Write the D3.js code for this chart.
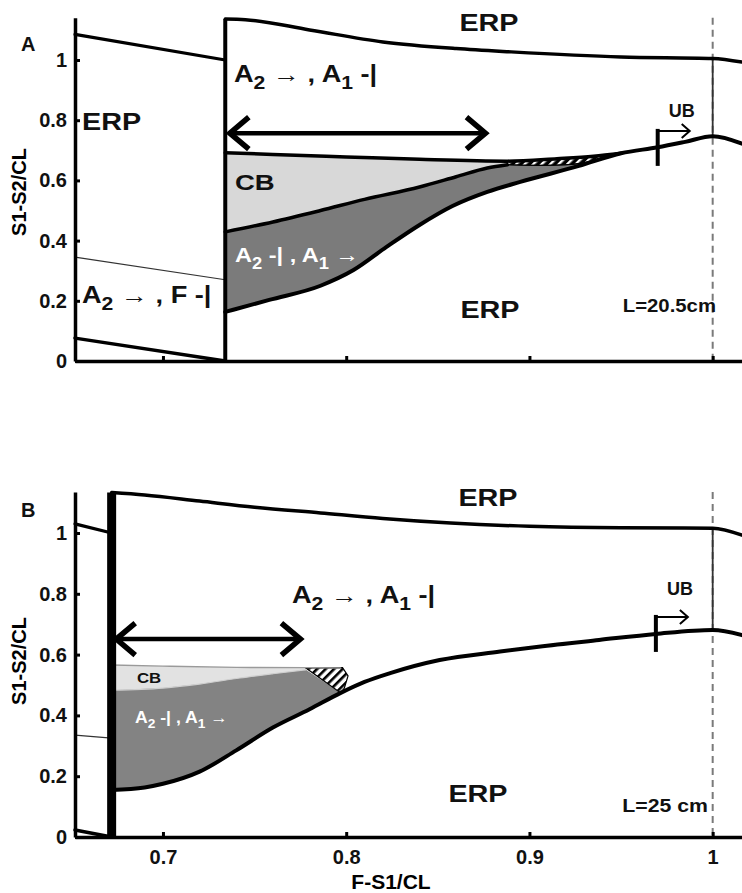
<!DOCTYPE html>
<html><head><meta charset="utf-8">
<script src="https://cdn.jsdelivr.net/npm/d3@7"></script>
<style>body{margin:0;background:#fff}svg{display:block}</style>
</head><body>
<svg id="chart" width="742" height="893"></svg>
<script>
// ---- axis ticks ----
const xTicks = [0.7, 0.8, 0.9, 1];
const xTickLabels = ["0.7", "0.8", "0.9", "1"];
const yTicks = [0, 0.2, 0.4, 0.6, 0.8, 1];
const yTickLabels = ["0", "0.2", "0.4", "0.6", "0.8", "1"];

// ---- panel A, L = 20.5 cm : boundaries as [F-S1/CL, S1-S2/CL] ----
const aBarrier = [[0.734, 0], [0.734, 1.136]];
const aLeftTop = [[0.652, 1.085], [0.734, 1.0]];
const aLeftMid = [[0.652, 0.345], [0.734, 0.27]];
const aLeftLow = [[0.652, 0.076], [0.734, 0.0]];
const aTop = [[0.734, 1.136], [0.745, 1.134], [0.78, 1.10], [0.82, 1.06], [0.86, 1.038], [0.89, 1.027], [0.95, 1.01], [1.0, 1.005], [1.016, 0.993]];
const aCbTop = [[0.734, 0.692], [0.76, 0.686], [0.80, 0.678], [0.84, 0.670], [0.888, 0.664], [0.915, 0.672], [0.935, 0.680], [0.95, 0.690]];
const aMid = [[0.734, 0.429], [0.76, 0.462], [0.786, 0.50], [0.81, 0.537], [0.84, 0.578], [0.86, 0.612], [0.877, 0.641], [0.888, 0.652]];
const aHatchLow = [[0.888, 0.652], [0.905, 0.650], [0.92, 0.652], [0.935, 0.665], [0.95, 0.690]];
const aLow = [[0.734, 0.163], [0.758, 0.203], [0.786, 0.25], [0.804, 0.302], [0.822, 0.379], [0.840, 0.452], [0.858, 0.515], [0.877, 0.562], [0.895, 0.595], [0.927, 0.648], [0.95, 0.69], [0.97, 0.71], [0.985, 0.728], [1.0, 0.747], [1.016, 0.722]];
const aRange = [[0.7365, 0.757], [0.876, 0.757]];
const aUB = [0.970, 0.708];

// ---- panel B, L = 25 cm ----
const bBarrier = [[0.672, 0], [0.672, 1.133]];
const bLeftTop = [[0.652, 1.03], [0.672, 1.0]];
const bLeftMid = [[0.652, 0.335], [0.672, 0.325]];
const bLeftLow = [[0.652, 0.023], [0.672, 0.0]];
const bTop = [[0.672, 1.133], [0.69, 1.125], [0.72, 1.105], [0.75, 1.085], [0.786, 1.066], [0.82, 1.048], [0.857, 1.033], [0.9, 1.022], [0.95, 1.017], [1.0, 1.016], [1.016, 0.993]];
const bCbTop = [[0.672, 0.566], [0.70, 0.562], [0.74, 0.558], [0.778, 0.557], [0.797, 0.556]];
const bMid = [[0.672, 0.483], [0.70, 0.49], [0.72, 0.503], [0.742, 0.523], [0.76, 0.537], [0.778, 0.55]];
const bHatch = [[0.778, 0.556], [0.798, 0.557], [0.801, 0.53], [0.799, 0.49], [0.797, 0.474]];
const bLow = [[0.672, 0.155], [0.69, 0.163], [0.70, 0.175], [0.72, 0.215], [0.74, 0.285], [0.76, 0.36], [0.78, 0.42], [0.797, 0.474], [0.81, 0.51], [0.824, 0.539], [0.851, 0.582], [0.884, 0.61], [0.905, 0.626], [0.938, 0.648], [0.969, 0.668], [1.0, 0.681], [1.016, 0.664]];
const bRange = [[0.6745, 0.651], [0.775, 0.651]];
const bUB = [0.969, 0.668];

const FONT = "'Liberation Sans', Arial, Helvetica, sans-serif";
const svg = d3.select("#chart");
const defs = svg.append("defs");

// hatch patterns for the narrow bistable strips
const pA = defs.append("pattern").attr("id", "hatchA").attr("patternUnits", "userSpaceOnUse")
  .attr("width", 6).attr("height", 6).attr("patternTransform", "rotate(45)");
pA.append("rect").attr("width", 6).attr("height", 6).attr("fill", "#000");
pA.append("rect").attr("x", 0).attr("width", 2.4).attr("height", 6).attr("fill", "#fff");
const pB = defs.append("pattern").attr("id", "hatchB").attr("patternUnits", "userSpaceOnUse")
  .attr("width", 6).attr("height", 6).attr("patternTransform", "rotate(45)");
pB.append("rect").attr("width", 6).attr("height", 6).attr("fill", "#fff");
pB.append("rect").attr("x", 0).attr("width", 2.6).attr("height", 6).attr("fill", "#000");

const x = d3.scaleLinear().domain([0.652, 1.016]).range([75, 742]);

function panel(cfg) {
  const y = d3.scaleLinear().domain([0, cfg.yMax]).range([cfg.y0, cfg.y0 - cfg.yMax * cfg.unit]);
  const g = svg.append("g");
  const line = d3.line().x(d => x(d[0])).y(d => y(d[1])).curve(d3.curveMonotoneX);
  const lin = d3.line().x(d => x(d[0])).y(d => y(d[1]));
  const poly = (upper, lower) => line(upper) + line(lower.slice().reverse()).replace(/^M/, "L") + "Z";

  // filled regions
  g.append("path").attr("d", cfg.cbPath(poly)).attr("fill", cfg.cbFill);
  g.append("path").attr("d", cfg.darkPath(poly, lin)).attr("fill", cfg.darkFill);
  g.append("path").attr("d", cfg.hatchPath(poly, lin)).attr("fill", cfg.hatch)
    .attr("stroke", "#000").attr("stroke-width", cfg.hatchStroke);

  // reference line at F-S1/CL = 1
  g.append("line").attr("x1", x(1)).attr("x2", x(1)).attr("y1", y(cfg.yMax)).attr("y2", y(0))
    .attr("stroke", "#7a7a7a").attr("stroke-width", 2).attr("stroke-dasharray", "7,5");
  g.append("line").attr("x1", x(1)).attr("x2", x(1))
    .attr("y1", y(cfg.top.find(d => d[0] === 1)[1])).attr("y2", y(cfg.low.find(d => d[0] === 1)[1]))
    .attr("stroke", "#333").attr("stroke-width", 1.8);

  // boundary curves
  const stroke = (data, w, col, gen) => g.append("path").attr("d", (gen || line)(data))
    .attr("fill", "none").attr("stroke", col || "#000").attr("stroke-width", w)
    .attr("stroke-linejoin", "round").attr("stroke-linecap", "round");
  stroke(cfg.leftTop, 3.2, "#000", lin);
  stroke(cfg.leftMid, 1.2, "#333", lin);
  stroke(cfg.leftLow, 3.5, "#000", lin);
  cfg.extraLines.forEach(e => stroke(e[0], e[1], e[2]));
  stroke(cfg.top, 3.5);
  stroke(cfg.low, 4);
  g.append("path").attr("d", lin(cfg.barrier)).attr("stroke", "#000").attr("stroke-width", cfg.barrierW);

  // double arrow for the range
  const [p0, p1] = cfg.range;
  const ax0 = x(p0[0]), ax1 = x(p1[0]), ay = y(p0[1]);
  g.append("line").attr("x1", ax0).attr("x2", ax1).attr("y1", ay).attr("y2", ay)
    .attr("stroke", "#000").attr("stroke-width", 4.5);
  [[ax0, 1], [ax1, -1]].forEach(([tx, s]) => {
    g.append("path").attr("d", `M${tx + s * 19},${ay - 16}L${tx},${ay}L${tx + s * 19},${ay + 16}`)
      .attr("fill", "none").attr("stroke", "#000").attr("stroke-width", 5.5).attr("stroke-linejoin", "miter");
  });

  // UB marker
  const ux = x(cfg.ub[0]), uy = y(cfg.ub[1]);
  g.append("line").attr("x1", ux).attr("x2", ux).attr("y1", uy - 19).attr("y2", uy + 18)
    .attr("stroke", "#000").attr("stroke-width", 4);
  g.append("line").attr("x1", ux).attr("x2", ux + 32).attr("y1", uy - 17).attr("y2", uy - 17)
    .attr("stroke", "#000").attr("stroke-width", 2);
  g.append("path").attr("d", `M${ux + 24},${uy - 24}L${ux + 32},${uy - 17}L${ux + 24},${uy - 10}`)
    .attr("fill", "none").attr("stroke", "#000").attr("stroke-width", 2);
  text(g, ux + 11, uy + cfg.ubDy, [["UB"]], 18);

  // axes
  const ya = g.append("g").attr("transform", `translate(${x(0.652)},0)`)
    .call(d3.axisLeft(y).tickValues(yTicks).tickFormat((d, i) => yTickLabels[i])
      .tickSizeInner(-5).tickSizeOuter(0).tickPadding(8));
  const xa = g.append("g").attr("transform", `translate(0,${y(0)})`)
    .call(d3.axisBottom(x).tickValues(xTicks).tickFormat((d, i) => cfg.xLabels ? xTickLabels[i] : "")
      .tickSizeInner(-5).tickSizeOuter(0).tickPadding(13));
  [ya, xa].forEach(a => {
    a.select(".domain").attr("stroke", "#000").attr("stroke-width", 3.5);
    a.selectAll(".tick line").attr("stroke", "#000").attr("stroke-width", 3);
    a.selectAll(".tick text").attr("font-family", FONT).attr("font-weight", "bold")
      .attr("font-size", 20).attr("fill", "#111");
  });
  g.append("text").attr("transform", `translate(26,${cfg.yLabelY}) rotate(-90)`)
    .attr("text-anchor", "middle").attr("font-family", FONT).attr("font-weight", "bold")
    .attr("font-size", 20).text("S1-S2/CL");

  cfg.labels.forEach(l => text(g, l.x, l.y, l.parts, l.size, l.fill, l.anchor, l.sx));
  return g;
}

// text with optional subscript parts: [string, isSub, isLight]
function text(g, tx, ty, parts, size, fill, anchor, sx) {
  const t = g.append("text").attr("transform", `translate(${tx},${ty}) scale(${sx || 1},1)`)
    .attr("font-family", FONT).attr("font-weight", "bold").attr("font-size", size)
    .attr("fill", fill || "#111").attr("text-anchor", anchor || "start");
  let shifted = false;
  parts.forEach(p => {
    const s = t.append("tspan").text(p[0]);
    if (p[1]) { s.attr("font-size", size * 0.78).attr("dy", size * 0.32); shifted = true; }
    else if (shifted) { s.attr("dy", -size * 0.32); shifted = false; }
    if (p[2]) s.attr("font-weight", "normal");
  });
}

const lblA2A1 = [["A"], ["2", true], [" → ", false, true], [", A"], ["1", true], [" -|"]];
const lblA2A1inv = [["A"], ["2", true], [" -| , A"], ["1", true], [" →", false, true]];

panel({
  y0: 361, unit: 301, yMax: 1.14, yLabelY: 192, xLabels: false,
  barrier: aBarrier, barrierW: 4, leftTop: aLeftTop, leftMid: aLeftMid, leftLow: aLeftLow,
  top: aTop, low: aLow, range: aRange, ub: aUB, ubDy: -31,
  cbFill: "#d8d8d8", darkFill: "#7b7b7b", hatch: "url(#hatchA)", hatchStroke: 1,
  cbPath: poly => poly(aCbTop.filter(d => d[0] <= 0.888), aMid),
  darkPath: poly => poly(aMid.concat(aHatchLow.slice(1)), aLow.filter(d => d[0] <= 0.95)),
  hatchPath: poly => poly(aCbTop.filter(d => d[0] >= 0.888), aHatchLow),
  extraLines: [[aCbTop, 3.5, "#000"], [aMid, 3.5, "#000"], [aHatchLow, 1.2, "#000"]],
  labels: [
    { x: 21, y: 51, parts: [["A"]], size: 20 },
    { x: 489, y: 31, parts: [["ERP"]], size: 23, anchor: "middle", sx: 1.25 },
    { x: 234, y: 82, parts: lblA2A1, size: 23, sx: 1.18 },
    { x: 82, y: 130, parts: [["ERP"]], size: 23, sx: 1.25 },
    { x: 235, y: 190, parts: [["CB"]], size: 22, sx: 1.25 },
    { x: 235, y: 262, parts: lblA2A1inv, size: 21, fill: "#fff", sx: 1.12 },
    { x: 490, y: 318, parts: [["ERP"]], size: 23, anchor: "middle", sx: 1.25 },
    { x: 716, y: 312, parts: [["L=20.5cm"]], size: 18, anchor: "end", sx: 1.13 },
    { x: 82, y: 303, parts: [["A"], ["2", true], [" → ", false, true], [", F -|"]], size: 23, sx: 1.18 }
  ]
});

panel({
  y0: 837, unit: 304, yMax: 1.135, yLabelY: 661, xLabels: true,
  barrier: bBarrier, barrierW: 9, leftTop: bLeftTop, leftMid: bLeftMid, leftLow: bLeftLow,
  top: bTop, low: bLow, range: bRange, ub: bUB, ubDy: -39,
  cbFill: "#e2e2e2", darkFill: "#838383", hatch: "url(#hatchB)", hatchStroke: 1.2,
  cbPath: poly => poly(bCbTop.filter(d => d[0] <= 0.778), bMid),
  darkPath: (poly, lin) => lin(bMid.concat([[0.797, 0.474]]).concat(bLow.filter(d => d[0] <= 0.797).reverse())) + "Z",
  hatchPath: (poly, lin) => lin(bHatch) + "Z",
  extraLines: [[bCbTop, 1.4, "#9a9a9a"], [bMid, 1.2, "#cfcfcf"]],
  labels: [
    { x: 21, y: 517, parts: [["B"]], size: 20 },
    { x: 488, y: 506, parts: [["ERP"]], size: 23, anchor: "middle", sx: 1.25 },
    { x: 292, y: 603, parts: lblA2A1, size: 23, sx: 1.18 },
    { x: 137, y: 683, parts: [["CB"]], size: 14, sx: 1.2 },
    { x: 135, y: 723, parts: lblA2A1inv, size: 16, fill: "#fff", sx: 1.1 },
    { x: 478, y: 802, parts: [["ERP"]], size: 23, anchor: "middle", sx: 1.25 },
    { x: 708, y: 812, parts: [["L=25 cm"]], size: 19, anchor: "end", sx: 1.12 }
  ]
});

svg.append("text").attr("x", 391).attr("y", 889).attr("text-anchor", "middle")
  .attr("font-family", FONT).attr("font-weight", "bold").attr("font-size", 21).text("F-S1/CL");
</script>
</body></html>
